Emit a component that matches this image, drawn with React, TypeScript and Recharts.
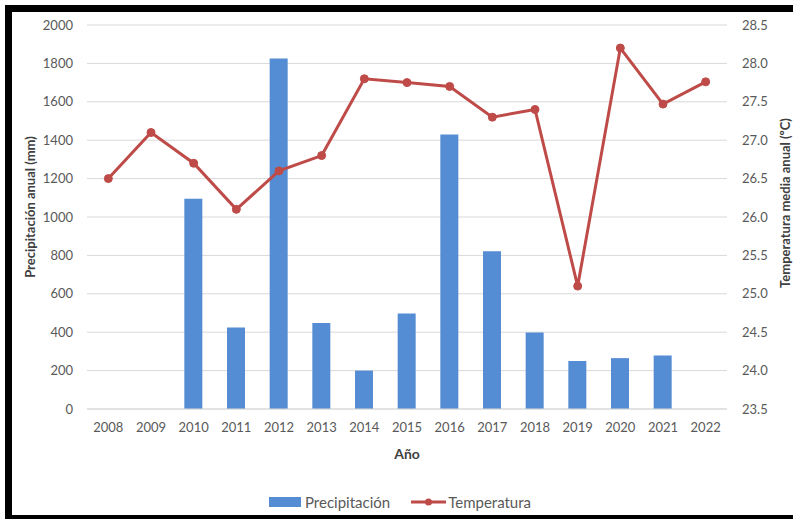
import React from "react";
import {
  ComposedChart,
  Bar,
  Line,
  XAxis,
  YAxis,
  CartesianGrid,
  Legend,
  Label,
} from "recharts";

const years = ["2008", "2009", "2010", "2011", "2012", "2013", "2014", "2015", "2016", "2017", "2018", "2019", "2020", "2021", "2022"];
const precipitacion: (number | null)[] = [null, null, 1095, 425, 1825, 448, 200, 498, 1430, 822, 398, 250, 265, 278, null];
const temperatura = [26.5, 27.1, 26.7, 26.1, 26.6, 26.8, 27.8, 27.75, 27.7, 27.3, 27.4, 25.1, 28.2, 27.47, 27.76];
const precipTicks = [0, 200, 400, 600, 800, 1000, 1200, 1400, 1600, 1800, 2000];
const tempTicks = [23.5, 24.0, 24.5, 25.0, 25.5, 26.0, 26.5, 27.0, 27.5, 28.0, 28.5];

const data = years.map((y, i) => ({
  year: y,
  precip: precipitacion[i],
  temp: temperatura[i],
}));

const FONT = "Lato, 'Open Sans', sans-serif";
const BLUE = "#548DD4";
const RED = "#BE4B48";
const TICK = { fill: "#595959", fontSize: 13, fontFamily: FONT };

const LegendContent = () => (
  <div
    style={{
      display: "flex",
      justifyContent: "flex-start",
      alignItems: "center",
      fontFamily: FONT,
      fontSize: 15,
      color: "#595959",
      width: 793,
      height: 18,
      paddingLeft: 269,
      boxSizing: "border-box",
    }}
  >
    <span style={{ display: "inline-block", width: 32, height: 10, background: BLUE, marginRight: 4 }} />
    <span style={{ marginRight: 21 }}>Precipitación</span>
    <svg width={35} height={10} style={{ marginRight: 2 }}>
      <line x1={0} y1={5} x2={35} y2={5} stroke={RED} strokeWidth={3} />
      <circle cx={17.5} cy={5} r={3.5} fill={RED} />
    </svg>
    <span>Temperatura</span>
  </div>
);

export default function App() {
  return (
    <div
      style={{
        position: "absolute",
        left: 0,
        top: 0,
        width: 793,
        height: 519,
        overflow: "hidden",
        background: "#fff",
      }}
    >
      <div
        style={{
          position: "absolute",
          left: 5,
          top: 5,
          width: 783,
          height: 517,
          borderTop: "7px solid #000",
          borderLeft: "7px solid #000",
          borderBottom: "7px solid #000",
          borderRight: "none",
          boxSizing: "border-box",
          background: "#fff",
        }}
      />
      <div
        style={{
          position: "absolute",
          left: 788,
          top: 5,
          width: 5,
          height: 7,
          background: "#000",
        }}
      />
      <div
        style={{
          position: "absolute",
          left: 788,
          top: 515,
          width: 5,
          height: 7,
          background: "#000",
        }}
      />
      <div style={{ position: "absolute", left: 0, top: 0 }}>
        <ComposedChart
          width={793}
          height={519}
          data={data}
          margin={{ top: 25, right: 10, left: 12, bottom: 50 }}
        >
          <CartesianGrid vertical={false} stroke="#D9D9D9" yAxisId="left" />
          <XAxis
            dataKey="year"
            tick={TICK}
            tickLine={false}
            axisLine={{ stroke: "#D9D9D9" }}
            tickSize={6}
            tickMargin={8}
            height={60}
            interval={0}
          >
            <Label
              content={(props: any) => {
                const vb = props.viewBox || {};
                return (
                  <text
                    x={vb.x + vb.width / 2}
                    y={vb.y + 44}
                    textAnchor="middle"
                    dominantBaseline="central"
                    fill="#404040"
                    fontFamily={FONT}
                    fontSize={14}
                    fontWeight="bold"
                  >
                    Año
                  </text>
                );
              }}
            />
          </XAxis>
          <YAxis
            yAxisId="left"
            orientation="left"
            domain={[0, 2000]}
            ticks={precipTicks}
            tick={TICK}
            tickLine={false}
            axisLine={false}
            tickSize={6}
            tickMargin={8}
            width={75}
            interval={0}
          >
            <Label
              content={(props: any) => {
                const vb = props.viewBox || {};
                const cx = 30;
                const cy = vb.y + vb.height / 2 - 10;
                return (
                  <text
                    x={cx}
                    y={cy}
                    transform={`rotate(-90 ${cx} ${cy})`}
                    textAnchor="middle"
                    dominantBaseline="central"
                    fill="#404040"
                    fontFamily={FONT}
                    fontSize={13}
                    fontWeight="bold"
                  >
                    Precipitación anual (mm)
                  </text>
                );
              }}
            />
          </YAxis>
          <YAxis
            yAxisId="right"
            orientation="right"
            domain={[23.5, 28.5]}
            ticks={tempTicks}
            tick={TICK}
            tickFormatter={(v: number) => v.toFixed(1)}
            tickLine={false}
            axisLine={false}
            tickSize={6}
            tickMargin={9}
            width={56}
            interval={0}
          >
            <Label
              content={(props: any) => {
                const vb = props.viewBox || {};
                const cx = 785;
                const cy = vb.y + vb.height / 2 - 14;
                return (
                  <text
                    x={cx}
                    y={cy}
                    transform={`rotate(-90 ${cx} ${cy})`}
                    textAnchor="middle"
                    dominantBaseline="central"
                    fill="#404040"
                    fontFamily={FONT}
                    fontSize={13}
                    fontWeight="bold"
                  >
                    Temperatura media anual (ºC)
                  </text>
                );
              }}
            />
          </YAxis>
          <Bar
            yAxisId="left"
            dataKey="precip"
            name="Precipitación"
            fill={BLUE}
            barSize={18}
            isAnimationActive={false}
          />
          <Line
            yAxisId="right"
            dataKey="temp"
            name="Temperatura"
            stroke={RED}
            strokeWidth={3}
            dot={{ r: 4, fill: RED, stroke: RED, strokeWidth: 1 }}
            activeDot={false}
            type="linear"
            isAnimationActive={false}
          />
          <Legend
            layout="vertical"
            align="center"
            verticalAlign="middle"
            wrapperStyle={{ top: 493, left: 0, width: 793 }}
            content={() => <LegendContent />}
          />
        </ComposedChart>
      </div>
    </div>
  );
}
